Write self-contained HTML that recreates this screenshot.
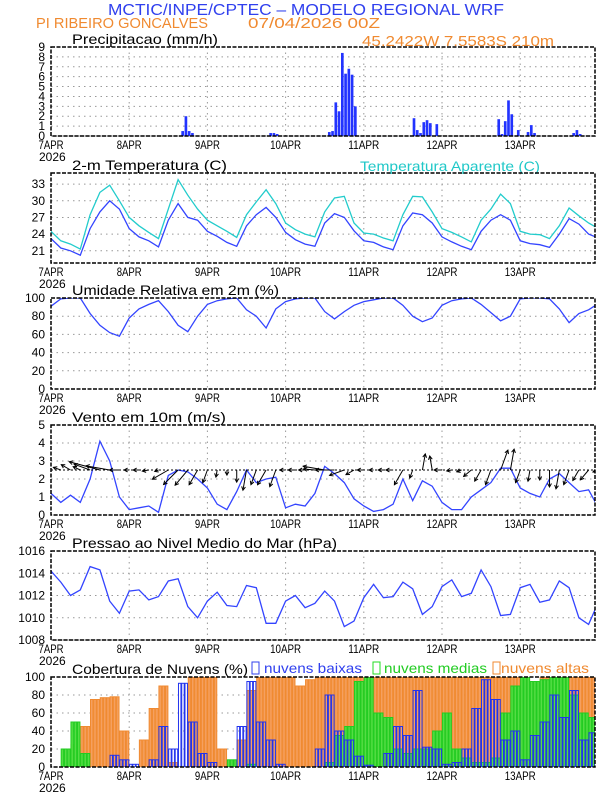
<!DOCTYPE html>
<html><head><meta charset="utf-8">
<style>
html,body{margin:0;padding:0;background:#fff;}
svg{display:block;font-family:"Liberation Sans",sans-serif;}
</style></head>
<body>
<svg id="chart" width="612" height="792" viewBox="0 0 612 792" xmlns="http://www.w3.org/2000/svg">
<text x="108" y="15" textLength="396" lengthAdjust="spacingAndGlyphs" font-size="16" fill="#3040ee">MCTIC/INPE/CPTEC – MODELO REGIONAL WRF</text>
<text x="36" y="28" textLength="172" lengthAdjust="spacingAndGlyphs" font-size="15" fill="#f08a30">PI RIBEIRO GONCALVES</text>
<text x="248" y="28" textLength="132" lengthAdjust="spacingAndGlyphs" font-size="15" fill="#f08a30">07/04/2026 00Z</text>
<text x="362" y="46" textLength="192" lengthAdjust="spacingAndGlyphs" font-size="15" fill="#f08a30">45.2422W 7.5583S 210m</text>
<text x="360" y="171" textLength="180" lengthAdjust="spacingAndGlyphs" font-size="14" fill="#20c8c8">Temperatura Aparente (C)</text>
<g id="legend">
<rect x="252" y="662" width="7" height="12" fill="none" stroke="#3040ee" stroke-width="1"/>
<text x="264" y="673" textLength="98" lengthAdjust="spacingAndGlyphs" font-size="14" fill="#3040ee">nuvens baixas</text>
<rect x="373" y="662" width="7" height="12" fill="none" stroke="#22dd22" stroke-width="1"/>
<text x="384" y="673" textLength="103" lengthAdjust="spacingAndGlyphs" font-size="14" fill="#22cc22">nuvens medias</text>
<rect x="493" y="662" width="7" height="12" fill="none" stroke="#f08a30" stroke-width="1"/>
<text x="501" y="673" textLength="88" lengthAdjust="spacingAndGlyphs" font-size="14" fill="#f08a30">nuvens altas</text>
</g>
</svg>
<script>
// ---- data (3-hourly, hours 0..168) ----
const hours = [];
for (let i = 0; i <= 56; i++) hours.push(i * 3);
const dayLabels = ["7APR","8APR","9APR","10APR","11APR","12APR","13APR"];
const precipHours = [40,41,42,43,67,68,69,85,86,87,88,89,90,91,92,93,111,112,113,114,115,116,118,137,138,139,140,141,143,146,147,148,160,161,162];
const precipVals  = [0.5,2.0,0.5,0.3,0.3,0.3,0.2,0.4,0.5,3.4,2.5,8.4,6.3,6.8,6.2,3.0,1.8,0.6,0.3,1.4,1.6,1.3,1.2,1.7,0.2,1.5,3.6,2.2,0.6,0.4,1.1,0.3,0.3,0.6,0.2];
const temp = [23.2,21.5,21.0,20.2,25.0,28.0,30.0,28.5, 25.0,23.5,22.8,21.7,26.5,29.5,27.0,26.5, 24.5,23.6,22.5,21.8,25.5,27.5,28.8,27.0, 24.3,23.0,22.2,21.8,26.0,27.7,27.0,24.6, 22.8,22.5,21.7,21.2,25.5,27.8,27.5,26.0, 23.5,22.6,21.8,21.2,24.5,26.5,27.5,26.5, 22.8,22.3,22.1,21.6,24.0,26.8,25.8,24.0,23.3];
const tempApp = [24.5,22.8,22.2,21.3,27.5,31.5,32.8,30.0, 27.0,25.5,24.3,23.2,28.5,33.8,31.0,28.5, 26.5,25.5,24.5,23.4,27.5,29.8,32.0,29.5, 26.0,24.8,24.0,23.5,28.0,30.5,30.8,26.0, 24.2,24.0,23.3,22.8,27.5,30.8,30.7,28.0, 25.0,24.3,23.5,22.6,26.5,28.5,31.2,29.5, 24.5,24.0,23.9,23.2,25.5,28.7,27.3,26.0,25.0];
const rh = [91,99,100,100,83,70,62,58, 78,88,93,97,85,70,63,80, 93,97,99,100,87,80,67,88, 96,99,100,100,85,77,85,92, 96,98,100,100,92,80,74,78, 92,97,99,100,93,84,75,80, 99,100,100,99,88,73,83,87,94];
const windSpd = [1.2,0.7,1.1,0.7,2.0,4.1,3.0,1.0, 0.3,0.4,0.5,0.15,2.2,2.5,2.4,2.0, 1.5,0.6,0.3,1.3,2.5,1.8,2.0,2.1, 0.4,0.6,0.5,1.2,2.7,2.3,1.8,0.9, 0.5,0.2,0.3,0.6,2.0,0.8,1.9,1.6, 0.7,0.3,0.3,1.0,1.4,1.8,2.6,2.6, 1.5,1.2,1.0,2.0,2.3,1.8,1.3,1.4,0.4];
const windDir = [170,160,150,155,160,165,170,180, 180,180,190,200,210,225,230,240, 250,260,270,270,260,250,240,250, 180,180,180,175,170,180,200,210, 180,180,180,180,240,250,80,100, 180,190,200,220,240,250,70,80, 250,260,270,270,260,250,240,230,200];
const pres = [1014.2,1013.2,1012.0,1012.5,1014.6,1014.3,1011.5,1010.4, 1012.4,1012.5,1011.6,1011.9,1013.3,1013.5,1011.0,1010.0, 1011.5,1012.3,1011.1,1011.0,1012.9,1012.7,1009.5,1009.5, 1011.5,1012.0,1010.9,1011.3,1012.4,1011.5,1009.2,1009.7, 1011.8,1013.0,1011.8,1011.9,1013.2,1012.6,1010.3,1011.0, 1012.8,1013.4,1011.9,1012.2,1014.3,1012.8,1010.2,1010.3, 1012.7,1013.0,1011.4,1011.6,1013.3,1012.7,1010.0,1009.4,1011.4];
const cloudHigh = [0,0,25,45,75,77,78,40, 0,30,65,90,5,0,100,100, 100,20,0,30,85,100,100,100, 100,90,97,100,100,100,100,100, 100,100,100,100,100,100,100,100, 100,100,100,100,100,100,100,100, 100,95,100,100,100,100,100,100,100];
const cloudMid = [0,20,50,15,0,0,0,0, 0,0,0,0,0,0,0,0, 0,0,8,0,3,0,0,0, 0,0,0,0,5,35,45,95, 100,60,55,20,15,20,20,40, 60,20,10,5,5,10,60,90, 100,95,97,100,100,80,60,55,70];
const cloudLow = [0,0,0,0,0,0,13,8, 3,0,8,45,20,93,50,15, 5,0,0,45,95,50,30,3, 0,0,0,20,80,40,30,12, 2,0,15,45,35,85,22,20, 3,5,20,65,97,75,30,40, 8,35,50,80,55,85,30,38,5];

const NS = "http://www.w3.org/2000/svg";
const svg = document.getElementById("chart");
const X0 = 51, XR = 595, PXH = 78.2 / 24;
function X(h){ return X0 + h * PXH; }
function mk(tag, attrs, parent){
  const e = document.createElementNS(NS, tag);
  for (const k in attrs) e.setAttribute(k, attrs[k]);
  (parent || svg).appendChild(e);
  return e;
}
const defs = mk("defs", {});
function makePanel(id, top, bot, ymin, ymax, ticks, title, titleLen){
  const g = mk("g", {});
  
  
  const Y = v => bot - (v - ymin) / (ymax - ymin) * (bot - top);
  const cp = mk("clipPath", {id: "clip-" + id}, defs);
  mk("rect", {x: X0, y: top, width: XR - X0, height: bot - top}, cp);
  ticks.forEach(t => {
    const l = mk("line", {x1: X0, x2: XR, y1: Y(t), y2: Y(t), stroke: "#999", "stroke-width": 1, "stroke-dasharray": "1.5,4"}, g);
    
    
    const tl = mk("text", {x: 45, y: Y(t) + 4, "text-anchor": "end", "font-size": 12, fill: "#000"}, g);
    tl.textContent = t;
    
    
  });
  dayLabels.forEach((d, i) => {
    const x = X(i * 24);
    if (i > 0) {
      const l = mk("line", {x1: x, x2: x, y1: top, y2: bot, stroke: "#999", "stroke-width": 1, "stroke-dasharray": "1.5,4"}, g);
      
      
    }
    const t = mk("text", {x: x, y: bot + 13, "text-anchor": "middle", "font-size": 12, fill: "#000", "textLength": d.length > 4 ? 31 : 25, "lengthAdjust": "spacingAndGlyphs"}, g);
    t.textContent = d;
    
    
  });
  const yr = mk("text", {x: X(0) - 12, y: bot + 25, "font-size": 12, fill: "#000"}, g);
  yr.textContent = "2026";
  
  
  const tt = mk("text", {x: 72, y: top - 3, "font-size": 14, fill: "#000", textLength: titleLen, lengthAdjust: "spacingAndGlyphs"}, g);
  tt.textContent = title;
  
  
  const plot = mk("g", {"clip-path": "url(#clip-" + id + ")"}, g);
  return {g, plot, Y, top, bot};
}
function frame(p){
  const r = mk("rect", {x: X0, y: p.top, width: XR - X0, height: p.bot - p.top, fill: "none", stroke: "#000", "stroke-width": 1.5, "stroke-dasharray": "4,1.5"}, p.g);
  
  
}
function line(p, vals, color, name){
  const d = vals.map((v, i) => (i ? "L" : "M") + X(hours[i]).toFixed(1) + "," + p.Y(v).toFixed(1)).join("");
  const path = mk("path", {d: d, fill: "none", stroke: color, "stroke-width": 1.3}, p.plot);
  
  
}

const p1 = makePanel("precip", 47, 136, 0, 9, [0,1,2,3,4,5,6,7,8,9], "Precipitacao (mm/h)", 146);
precipHours.forEach((h, i) => {
  const y = p1.Y(precipVals[i]);
  const b = mk("rect", {x: X(h), y: y, width: PXH - 0.6, height: p1.Y(0) - y, fill: "#2233ff"}, p1.plot);
  
  
});
frame(p1);

const p2 = makePanel("temp", 173, 263, 18.8, 35, [21,24,27,30,33], "2-m Temperatura (C)", 155);
line(p2, tempApp, "#22cccc", "apparent-temp-line");
line(p2, temp, "#3344ff", "temp-line");
frame(p2);

const p3 = makePanel("rh", 298, 389, 0, 100, [0,20,40,60,80,100], "Umidade Relativa em 2m (%)", 207);
line(p3, rh, "#3344ff", "rh-line");
frame(p3);

const p4 = makePanel("wind", 425, 515, 0, 5, [0,1,2,3,4,5], "Vento em 10m (m/s)", 154);
line(p4, windSpd, "#3344ff", "wind-speed-line");
const baseY = p4.Y(2.5);
hours.forEach((h, i) => {
  const len = windSpd[i] * 7 + 3;
  const a = windDir[i] * Math.PI / 180;
  const x1 = X(h), x2 = x1 + Math.cos(a) * len, y2 = baseY - Math.sin(a) * len;
  const ar = mk("g", {}, p4.plot);
  
  
  mk("line", {x1: x1, y1: baseY, x2: x2, y2: y2, stroke: "#000", "stroke-width": 1}, ar);
  const ha = 0.5, hl = 4;
  mk("path", {d: "M" + (x2 - Math.cos(a - ha) * hl) + "," + (y2 + Math.sin(a - ha) * hl) + "L" + x2 + "," + y2 + "L" + (x2 - Math.cos(a + ha) * hl) + "," + (y2 + Math.sin(a + ha) * hl), fill: "none", stroke: "#000", "stroke-width": 1}, ar);
});
const bl = mk("line", {x1: X0, x2: XR, y1: baseY, y2: baseY, stroke: "#000", "stroke-width": 1, "stroke-dasharray": "2,2"}, p4.plot);


frame(p4);

const p5 = makePanel("pres", 551, 640, 1008, 1016, [1008,1010,1012,1014,1016], "Pressao ao Nivel Medio do Mar (hPa)", 265);
line(p5, pres, "#3344ff", "pressure-line");
frame(p5);

const p6 = makePanel("cloud", 677, 767, 0, 100, [0,20,40,60,80,100], "Cobertura de Nuvens (%)", 176);
function bars(vals, fill, stroke, name){
  hours.forEach((h, i) => {
    if (vals[i] <= 0) return;
    for (let k = 0; k < 3; k++) {
      const y = p6.Y(vals[i]);
      const b = mk("rect", {x: X(h + k) + 0.4, y: y, width: PXH - 0.8, height: p6.Y(0) - y, fill: fill, stroke: stroke, "stroke-width": 1}, p6.plot);
      
      
    }
  });
}
bars(cloudHigh, "#f5a060", "#f08a30", "high-cloud-bar");
bars(cloudMid, "#55dd44", "#22cc22", "mid-cloud-bar");
bars(cloudLow, "none", "#2233ee", "low-cloud-bar");
frame(p6);
</script>
</body></html>
